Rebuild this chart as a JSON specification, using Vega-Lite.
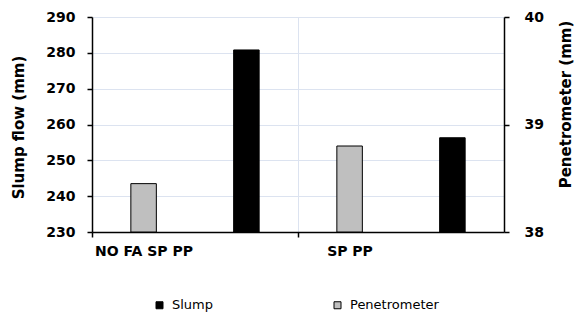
{
  "$schema": "https://vega.github.io/schema/vega-lite/v6.json",
  "width": 412,
  "height": 215,
  "autosize": {"type": "none"},
  "padding": {"left": 92, "top": 17, "right": 70, "bottom": 82},
  "background": "white",
  "config": {"view": {"stroke": null}, "font": "DejaVu Sans"},
  "data": {
    "values": [
      {"mix": "NO FA SP PP", "series": "Slump", "value": 280.8},
      {"mix": "SP PP", "series": "Slump", "value": 256.3},
      {"mix": "NO FA SP PP", "series": "Penetrometer", "value": 38.45},
      {"mix": "SP PP", "series": "Penetrometer", "value": 38.8}
    ]
  },
  "encoding": {
    "x": {
      "field": "mix",
      "type": "nominal",
      "sort": ["NO FA SP PP", "SP PP"],
      "scale": {"paddingInner": 0, "paddingOuter": 0},
      "axis": {
        "title": null,
        "bandPosition": 0,
        "labelOffset": -51,
        "labelAngle": 0,
        "labelAlign": "center",
        "grid": true,
        "gridColor": "#dce3f0",
        "gridWidth": 1,
        "ticks": true,
        "tickSize": 5,
        "tickColor": "black",
        "tickWidth": 1.5,
        "domainColor": "black",
        "domainWidth": 1.5,
        "labelFont": "DejaVu Sans",
        "labelFontSize": 14,
        "labelFontWeight": "bold",
        "labelColor": "black",
        "labelPadding": 7
      }
    },
    "xOffset": {
      "field": "series",
      "type": "nominal",
      "scale": {"domain": ["Penetrometer", "Slump"], "paddingInner": 0.752, "paddingOuter": 0.378}
    },
    "color": {
      "field": "series",
      "type": "nominal",
      "scale": {"domain": ["Slump", "Penetrometer"], "range": ["#000000", "#bfbfbf"]},
      "legend": {
        "orient": "none",
        "legendX": 61,
        "legendY": 281.5,
        "padding": 0,
        "direction": "horizontal",
        "title": null,
        "symbolType": "square",
        "symbolSize": 49,
        "symbolStrokeColor": "black",
        "symbolStrokeWidth": 1,
        "labelFont": "DejaVu Sans",
        "labelFontSize": 13,
        "labelColor": "black",
        "labelOffset": 6,
        "columnPadding": 117
      }
    }
  },
  "layer": [
    {
      "transform": [{"filter": "datum.series === 'Slump'"}],
      "mark": {"type": "bar", "stroke": "#000000", "strokeWidth": 1},
      "encoding": {
        "y": {
          "field": "value",
          "type": "quantitative",
          "scale": {"domain": [230, 290], "zero": false, "nice": false},
          "axis": {
            "title": "Slump flow (mm)",
            "values": [230, 240, 250, 260, 270, 280, 290],
            "labelOverlap": false,
            "grid": true,
            "gridColor": "#dce3f0",
            "gridWidth": 1,
            "domainColor": "black",
            "domainWidth": 1.5,
            "tickColor": "black",
            "tickSize": 5,
            "tickWidth": 1.5,
            "labelFont": "DejaVu Sans",
            "labelFontSize": 14,
            "labelFontWeight": "bold",
            "labelColor": "black",
            "labelPadding": 12,
            "titleFont": "DejaVu Sans",
            "titleFontSize": 15,
            "titleFontWeight": "bold",
            "titleColor": "black",
            "titleAngle": 270,
            "titleAlign": "center",
            "titleBaseline": "middle",
            "titleX": -73.5,
            "titleY": 110
          }
        },
        "y2": {"datum": 230}
      }
    },
    {
      "transform": [{"filter": "datum.series === 'Penetrometer'"}],
      "mark": {"type": "bar", "stroke": "#000000", "strokeWidth": 1},
      "encoding": {
        "y": {
          "field": "value",
          "type": "quantitative",
          "scale": {"domain": [38, 40], "zero": false, "nice": false},
          "axis": {
            "orient": "right",
            "title": "Penetrometer (mm)",
            "tickCount": 2,
            "labelOverlap": false,
            "labelFlush": false,
            "grid": false,
            "domainColor": "black",
            "domainWidth": 1.5,
            "tickColor": "black",
            "tickSize": 5,
            "tickWidth": 1.5,
            "labelFont": "DejaVu Sans",
            "labelFontSize": 14,
            "labelFontWeight": "bold",
            "labelColor": "black",
            "labelPadding": 15,
            "titleFont": "DejaVu Sans",
            "titleFontSize": 15,
            "titleFontWeight": "bold",
            "titleColor": "black",
            "titleAngle": 270,
            "titleAlign": "center",
            "titleBaseline": "middle",
            "titleX": 61,
            "titleY": 87
          }
        },
        "y2": {"datum": 38}
      }
    }
  ],
  "resolve": {"scale": {"y": "independent"}}
}
